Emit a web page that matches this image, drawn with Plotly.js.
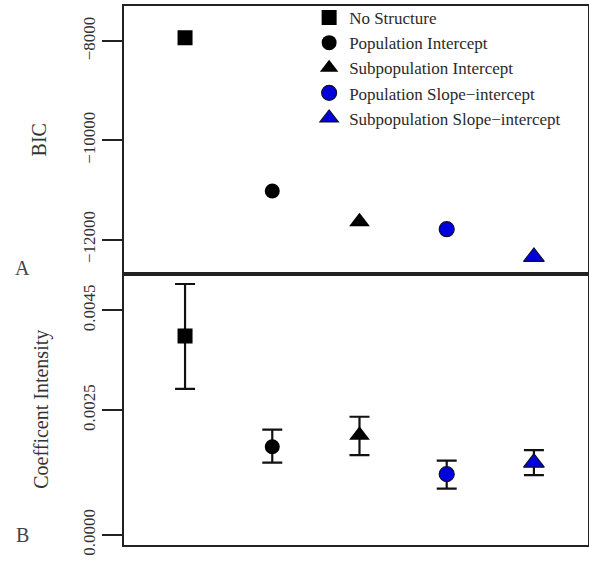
<!DOCTYPE html>
<html>
<head>
<meta charset="utf-8">
<script src="https://cdn.plot.ly/plotly-3.0.1.min.js"></script>
<style>html,body{margin:0;padding:0;background:#fff;}#chart{width:589px;height:565px;}</style>
</head>
<body>
<div id="chart"></div>
<script>
// ---- data ----
var models = ["No Structure", "Population Intercept", "Subpopulation Intercept", "Population Slope\u2212intercept", "Subpopulation Slope\u2212intercept"];
var modelPos = [1, 2, 3, 4, 5];
var bicValues = [-7935, -11020, -11640, -11790, -12350];
var coefValues = [0.00399, 0.00177, 0.00200, 0.00122, 0.00145];
var coefUpper = [0.00503, 0.00211, 0.00237, 0.00149, 0.00170];
var coefLower = [0.00293, 0.00145, 0.00160, 0.00093, 0.00120];
var bicTickVals = [-8000, -10000, -12000];
var bicTickText = ["\u22128000", "\u221210000", "\u221212000"];
var coefTickVals = [0, 0.0025, 0.0045];
var coefTickText = ["0.0000", "0.0025", "0.0045"];

// ---- styles ----
var symbols = ["square", "circle", "triangle-up", "circle", "triangle-up"];
var fills = ["#000000", "#000000", "#000000", "#0000dd", "#0000dd"];
var outlines = ["#000000", "#000000", "#000000", "#10102a", "#10102a"];
var sizes = [15, 15, 18, 15, 18];
var serif = "Liberation Serif";

var traces = [];
for (var i = 0; i < models.length; i++) {
  traces.push({
    type: "scatter", mode: "markers", name: models[i],
    x: [modelPos[i]], y: [bicValues[i]], xaxis: "x", yaxis: "y",
    marker: {symbol: symbols[i], color: fills[i], size: sizes[i], line: {color: outlines[i], width: i >= 3 ? 1.2 : 0}},
    showlegend: true, hoverinfo: "skip"
  });
}
for (var j = 0; j < models.length; j++) {
  traces.push({
    type: "scatter", mode: "markers", name: models[j],
    x: [modelPos[j]], y: [coefValues[j]], xaxis: "x2", yaxis: "y2",
    error_y: {type: "data", symmetric: false, array: [coefUpper[j] - coefValues[j]], arrayminus: [coefValues[j] - coefLower[j]], color: "#111", thickness: 2.2, width: 10},
    marker: {symbol: symbols[j], color: fills[j], size: sizes[j], line: {color: outlines[j], width: j >= 3 ? 1.2 : 0}},
    showlegend: false, hoverinfo: "skip"
  });
}

var axisLine = {showline: true, mirror: true, linewidth: 2, linecolor: "#222", showgrid: false, zeroline: false};
function merge(a, b) { var o = {}; for (var k in a) o[k] = a[k]; for (var k2 in b) o[k2] = b[k2]; return o; }

var split = 0.5037;
var layout = {
  width: 589, height: 565,
  margin: {l: 124, r: 1, t: 5, b: 20},
  paper_bgcolor: "#fff", plot_bgcolor: "#fff",
  font: {family: serif, color: "#222"},
  showlegend: true,
  legend: {x: 0.399, xanchor: "left", y: 0.8833, yanchor: "middle", bgcolor: "rgba(0,0,0,0)", borderwidth: 0,
           font: {family: serif, size: 17, color: "#2a2a2a"}, tracegroupgap: 0},
  xaxis: merge(axisLine, {domain: [0, 1], anchor: "y", range: [0.3, 5.62], showticklabels: false, ticks: ""}),
  xaxis2: merge(axisLine, {domain: [0, 1], anchor: "y2", range: [0.3, 5.62], showticklabels: false, ticks: ""}),
  yaxis: merge(axisLine, {domain: [split, 1], anchor: "x", range: [-12683, -7296],
    tickmode: "array", tickvals: bicTickVals, ticktext: bicTickText, tickangle: -90,
    ticks: "outside", ticklen: 20, tickwidth: 2, tickcolor: "#222",
    tickfont: {family: serif, size: 17, color: "#333"},
    title: {text: "BIC", font: {family: serif, size: 20, color: "#333"}, standoff: 28}}),
  yaxis2: merge(axisLine, {domain: [0, split], anchor: "x2", range: [-0.0002, 0.00524],
    tickmode: "array", tickvals: coefTickVals, ticktext: coefTickText, tickangle: -90,
    ticks: "outside", ticklen: 20, tickwidth: 2, tickcolor: "#222",
    tickfont: {family: serif, size: 17, color: "#333"},
    title: {text: "Coefficent Intensity", font: {family: serif, size: 20, color: "#333"}, standoff: 26}}),
  annotations: [
    {text: "A", xref: "paper", yref: "paper", x: -0.2177, y: 0.5148, xanchor: "center", yanchor: "middle", showarrow: false, font: {family: serif, size: 20, color: "#444"}},
    {text: "B", xref: "paper", yref: "paper", x: -0.2177, y: 0.0185, xanchor: "center", yanchor: "middle", showarrow: false, font: {family: serif, size: 20, color: "#444"}}
  ]
};

Plotly.newPlot("chart", traces, layout, {displayModeBar: false, staticPlot: true});
</script>
</body>
</html>
